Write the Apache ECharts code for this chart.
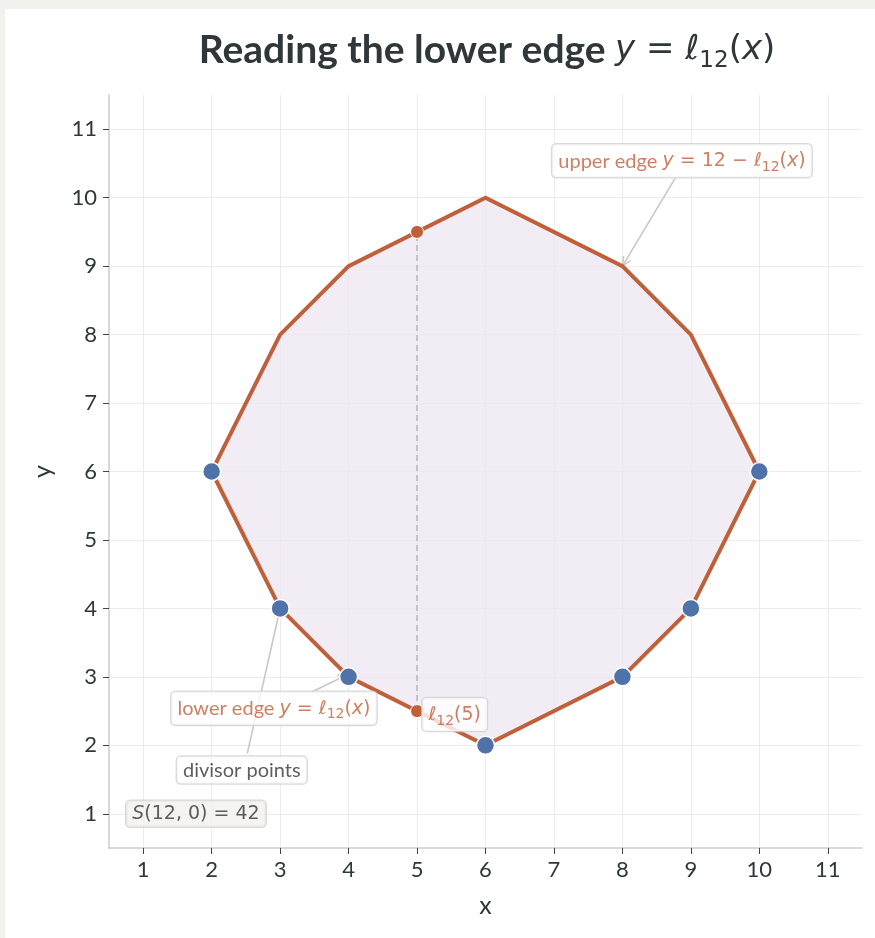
<!DOCTYPE html>
<html>
<head>
<meta charset="utf-8">
<script src="https://cdn.jsdelivr.net/npm/echarts@6/dist/echarts.min.js"></script>
<style>
  html, body { margin: 0; padding: 0; background: #f1f1ed; }
  #chart { position: absolute; left: 5px; top: 9px; width: 870px; height: 929px; background: #ffffff; }
</style>
</head>
<body>
<div id="chart"></div>
<script>
// Divisor points of 12 and the two edges of the region they bound
const divisorX = [2, 3, 4, 6, 8, 9, 10];
const lowerY   = [6, 4, 3, 2, 3, 4, 6];   // y = l12(x)
const upperY   = [6, 8, 9, 10, 9, 8, 6];  // y = 12 - l12(x)
// Sample column x = 5
const sampleX = 5;
const sampleLower = 2.5;
const sampleUpper = 9.5;
const tickValues = [1, 2, 3, 4, 5, 6, 7, 8, 9, 10, 11];

const ORANGE = '#c0603a';
const BLUE = '#4f72a8';
const TEXT = '#30373a';
const MATH = 'DejaVu Sans';

// polygon outline: lower edge left->right, then upper edge right->left
const polygon = [];
divisorX.forEach((x, i) => polygon.push([x, lowerY[i]]));
for (let i = divisorX.length - 2; i >= 1; i--) polygon.push([divisorX[i], upperY[i]]);

const chart = echarts.init(document.getElementById('chart'), null, { renderer: 'canvas' });

const mathRich = (color, size) => ({
  t: { fontFamily: 'Lato', fontSize: size, color: color },
  m: { fontFamily: MATH, fontSize: size - 1, color: color },
  i: { fontFamily: MATH, fontSize: size - 1, fontStyle: 'italic', color: color },
  s: { fontFamily: MATH, fontSize: Math.round(size * 0.68), color: color, verticalAlign: 'bottom', lineHeight: size + 6 }
});

const boxLabel = (text, color, bg, size) => ({
  show: true,
  position: 'inside',
  formatter: text,
  backgroundColor: bg,
  borderColor: '#cfcfcf',
  borderWidth: 1.3,
  borderRadius: 4,
  padding: [4, 6, 3, 6],
  rich: mathRich(color, size)
});

const annotations = [
  { value: [8.87, 10.54], text: '{t|upper edge }{i|y}{m| = 12 − }{i|ℓ}{s|12}{m|(}{i|x}{m|)}', color: ORANGE, bg: '#ffffff' },
  { value: [2.91, 2.54], text: '{t|lower edge }{i|y}{m| = }{i|ℓ}{s|12}{m|(}{i|x}{m|)}', color: ORANGE, bg: '#ffffff' },
  { value: [5.55, 2.45], text: '{i|ℓ}{s|12}{m|(5)}', color: ORANGE, bg: '#ffffff' },
  { value: [2.44, 1.64], text: '{t|divisor points}', color: TEXT, bg: '#ffffff' },
  { value: [1.77, 1.0], text: '{i|S}{m|(12, 0) = 42}', color: TEXT, bg: '#f2f1ec' }
];

const option = {
  animation: false,
  title: {
    text: '{b|Reading the lower edge }{i|y}{m| = }{i|ℓ}{s|12}{m|(}{i|x}{m|)}',
    left: 477, top: 13, textAlign: 'center',
    textStyle: {
      fontWeight: 'normal',
      rich: {
        b: { fontFamily: 'Lato', fontWeight: 'bold', fontSize: 39, color: TEXT },
        m: { fontFamily: MATH, fontWeight: 'normal', fontSize: 34, color: TEXT },
        i: { fontFamily: MATH, fontWeight: 'normal', fontSize: 34, fontStyle: 'italic', color: TEXT },
        s: { fontFamily: MATH, fontWeight: 'normal', fontSize: 23, color: TEXT, verticalAlign: 'bottom', lineHeight: 46 }
      }
    }
  },
  grid: { left: 104, right: 13, top: 86, bottom: 90 },
  xAxis: {
    type: 'value', min: 0.5, max: 11.5,
    name: 'x', nameLocation: 'middle', nameGap: 45,
    nameTextStyle: { fontFamily: 'Lato', fontSize: 25, color: TEXT },
    axisLine: { show: true, lineStyle: { color: '#cccccc', width: 1.5 } },
    axisTick: { show: true, length: 6, lineStyle: { color: '#444', width: 1 }, customValues: tickValues },
    axisLabel: { fontFamily: 'Lato', fontSize: 22, color: TEXT, margin: 11, customValues: tickValues },
    splitLine: { show: true, lineStyle: { color: '#ececec', width: 1 } },
    interval: 1
  },
  yAxis: {
    type: 'value', min: 0.5, max: 11.5,
    name: 'y', nameLocation: 'middle', nameGap: 54, nameRotate: 90,
    nameTextStyle: { fontFamily: 'Lato', fontSize: 25, color: TEXT },
    axisLine: { show: true, lineStyle: { color: '#cccccc', width: 1.5 } },
    axisTick: { show: true, length: 6, lineStyle: { color: '#444', width: 1 }, customValues: tickValues },
    axisLabel: { fontFamily: 'Lato', fontSize: 22, color: TEXT, margin: 12, customValues: tickValues },
    splitLine: { show: true, lineStyle: { color: '#ececec', width: 1 } },
    interval: 1
  },
  series: [
    {
      // filled region between the edges
      type: 'custom',
      data: polygon,
      z: 1,
      renderItem: function (params, api) {
        if (params.dataIndex !== 0) return null;
        const pts = polygon.map(p => api.coord(p));
        return {
          type: 'polygon',
          shape: { points: pts },
          style: { fill: 'rgba(238,229,240,0.75)', stroke: ORANGE, lineWidth: 4, lineJoin: 'miter' }
        };
      }
    },
    {
      // sample column at x = 5
      type: 'line',
      data: [[sampleX, sampleLower], [sampleX, sampleUpper]],
      symbol: 'none',
      z: 2,
      lineStyle: { color: '#c4c4c8', width: 2, type: [6, 4] }
    },
    {
      type: 'scatter',
      data: [[sampleX, sampleUpper], [sampleX, sampleLower]],
      symbolSize: 13,
      z: 3,
      itemStyle: { color: ORANGE, borderColor: '#ffffff', borderWidth: 1, opacity: 1 }
    },
    {
      type: 'scatter',
      data: divisorX.map((x, i) => [x, lowerY[i]]),
      symbolSize: 18,
      z: 4,
      itemStyle: { color: BLUE, borderColor: '#ffffff', borderWidth: 1.5, opacity: 1 }
    },
    {
      type: 'scatter',
      data: annotations.map(a => ({ value: a.value, label: boxLabel(a.text, a.color, a.bg, 20) })),
      symbolSize: 0,
      z: 10,
      silent: true
    }
  ]
};

chart.setOption(option);

// arrows from annotation boxes to the marks they describe
const arrows = [
  { from: [8.78, 10.3], to: [8, 9] },
  { from: [3.46, 2.78], to: [3.98, 3.03] },
  { from: [2.52, 1.88], to: [3, 4] }
];
const graphics = arrows.map(a => {
  const p0 = chart.convertToPixel({ gridIndex: 0 }, a.from);
  const p1 = chart.convertToPixel({ gridIndex: 0 }, a.to);
  const ang = Math.atan2(p1[1] - p0[1], p1[0] - p0[0]);
  const head = 10, spread = 0.42;
  const h1 = [p1[0] - head * Math.cos(ang - spread), p1[1] - head * Math.sin(ang - spread)];
  const h2 = [p1[0] - head * Math.cos(ang + spread), p1[1] - head * Math.sin(ang + spread)];
  return {
    type: 'group', z: 20,
    children: [
      { type: 'line', shape: { x1: p0[0], y1: p0[1], x2: p1[0], y2: p1[1] }, style: { stroke: '#c8c8c8', lineWidth: 1.6 } },
      { type: 'polyline', shape: { points: [h1, p1, h2] }, style: { stroke: '#c8c8c8', lineWidth: 1.6, fill: null } }
    ]
  };
});
chart.setOption({ graphic: graphics });
</script>
</body>
</html>
